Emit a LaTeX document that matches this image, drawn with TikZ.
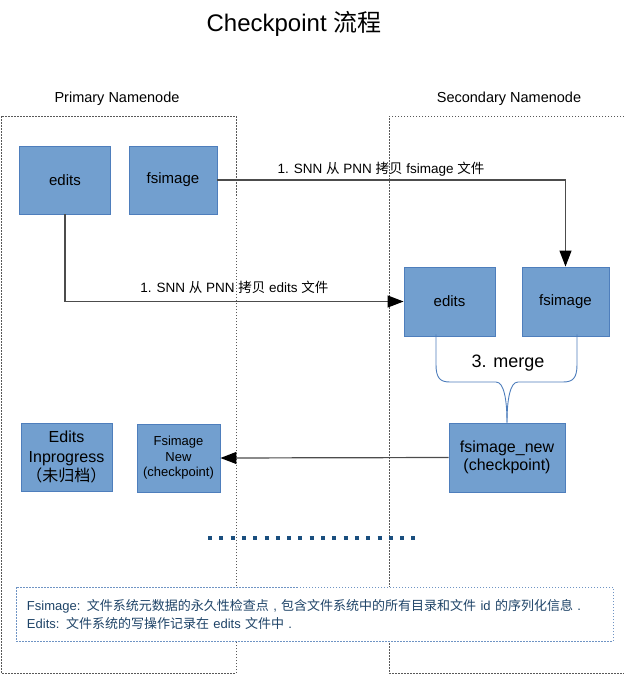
\documentclass[tikz,border=0pt]{standalone}
\usepackage{fontspec}
\setmainfont{Liberation Sans}
\newfontfamily\cjk{Noto Sans CJK SC}
\newcommand{\zh}[1]{{\cjk #1}}
\newcommand{\fs}[2]{\fontsize{#1}{#2}\selectfont}
\usetikzlibrary{arrows.meta}
\definecolor{boxfill}{HTML}{729FCF}
\definecolor{boxline}{HTML}{4E7EBC}
\definecolor{notetext}{HTML}{1F4468}
\definecolor{noteline}{HTML}{6F94C4}
\definecolor{dotblue}{HTML}{1A4E7E}
\tikzset{
  filebox/.style={draw=boxline, fill=boxfill, line width=0.9pt, inner sep=0pt, align=center, text=black},
  flow/.style={draw=black!70, line width=1.2pt},
  tip/.style={-{Triangle[length=16pt,width=12pt,color=black]}},
  zone/.style={draw=black!65, dash pattern=on 1.5pt off 1.5pt, line width=1pt},
  mergeline/.style={draw=boxline, line width=0.9pt},
  steplabel/.style={font=\fs{13.5}{16}, inner sep=3pt},
}
\begin{document}
\begin{tikzpicture}[x=1pt, y=-1pt]
  \useasboundingbox (0,0) rectangle (624,675);
  % title and namenode zones
  \node[font=\fs{24}{28}] (title) at (294,24) {Checkpoint \zh{流程}};
  \node[font=\fs{14.5}{17}] (pnnlabel) at (117,99) {Primary Namenode};
  \node[font=\fs{14.5}{17}] (snnlabel) at (509,99) {Secondary Namenode};
  \draw[zone] (1,116) rectangle (236,673);
  \draw[zone] (624,116) -- (389,116) -- (389,673) -- (624,673);
  % primary namenode files
  \node[filebox, minimum width=91pt, minimum height=68pt, font=\fs{15}{17}] (pedits) at (65,180) {edits};
  \node[filebox, minimum width=88pt, minimum height=68pt, font=\fs{15}{17}] (pfsimage) at (173,180) {fsimage};
  \node[filebox, minimum width=91pt, minimum height=68pt, font=\fs{16}{19.5}] (pinprog) at (66.5,457) {Edits\\Inprogress\\\zh{（未归档）}};
  \node[filebox, minimum width=83pt, minimum height=68pt, font=\fs{13}{15.5}] (pnew) at (178.5,458) {Fsimage\\New\\(checkpoint)};
  % secondary namenode files
  \node[filebox, minimum width=91pt, minimum height=69pt, font=\fs{15}{17}] (sedits) at (449.5,301.5) {edits};
  \node[filebox, minimum width=87pt, minimum height=69pt, font=\fs{15}{17}] (sfsimage) at (565.5,301.5) {fsimage};
  \node[filebox, minimum width=116pt, minimum height=69pt, font=\fs{16}{18}] (snew) at (507,457.5) {fsimage\_new\\(checkpoint)};
  % copy steps
  \draw[flow, tip] (pfsimage.east) -| (sfsimage.north)
    node[steplabel, pos=0.235, above=0pt] {1. SNN \zh{从} PNN \zh{拷贝} fsimage \zh{文件}};
  \draw[flow, tip] (pedits.south) |- (sedits.west)
    node[steplabel, pos=0.75, above=4pt] {1. SNN \zh{从} PNN \zh{拷贝} edits \zh{文件}};
  % merge
  \draw[mergeline] ([xshift=-13.5pt,yshift=2pt]sedits.south) -- ++(0,30)
    .. controls (436,378) and (440,382) .. (450,382) -- (496,382)
    .. controls (504,382) and (507,400) .. (snew.north);
  \draw[mergeline] ([xshift=11.5pt,yshift=2pt]sfsimage.south) -- ++(0,30)
    .. controls (577,378) and (573,382) .. (563,382) -- (518,382)
    .. controls (510,382) and (507,400) .. (snew.north);
  \node[font=\fs{18}{21}] (merge) at (508,363) {3. merge};
  \draw[flow, tip] (snew.west) -- (pnew.east);
  % more steps
  \draw[dotblue, line width=4pt, dash pattern=on 4pt off 7.3pt] (208,538) -- (418,538);
  % legend
  \node[draw=noteline, fill=white, dash pattern=on 1.5pt off 1.5pt, line width=1pt,
        text width=575pt, inner xsep=11pt, minimum height=54pt, align=left,
        font=\fs{13}{18}, text=notetext] (legend) at (314.5,614)
    {Fsimage: \zh{文件系统元数据的永久性检查点} , \zh{包含文件系统中的所有目录和文件} id \zh{的序列化信息} .\\
     Edits: \zh{文件系统的写操作记录在} edits \zh{文件中} .};
\end{tikzpicture}
\end{document}
